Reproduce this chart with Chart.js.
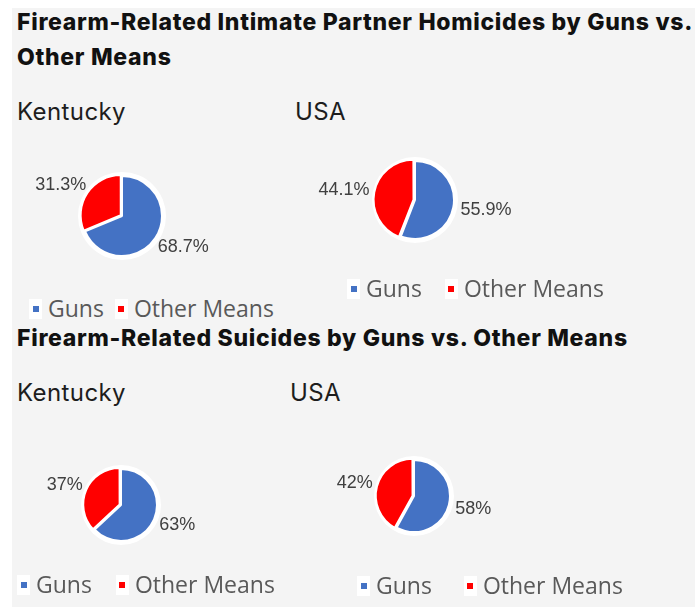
<!DOCTYPE html>
<html>
<head>
<meta charset="utf-8">
<script src="https://cdn.jsdelivr.net/npm/chart.js@4.4.1/dist/chart.umd.min.js"></script>
<style>
  body { margin: 0; width: 695px; height: 607px; overflow: hidden; background: #ffffff; position: relative; font-family: Inter, sans-serif; }
  #panel { position: absolute; left: 12px; top: 8px; right: 0; bottom: 0; background: #f4f4f4; }
  .title { position: absolute; left: 17px; font-weight: 800; font-size: 23px; line-height: 23px; color: #111; white-space: nowrap; letter-spacing: 0.7px; }
  .sub { position: absolute; font-size: 24px; line-height: 24px; color: #1d1d1d; white-space: nowrap; letter-spacing: 0.4px; }
  .pie { position: absolute; }
  .legend { position: absolute; display: flex; align-items: center; font-family: 'Open Sans', sans-serif; font-size: 23px; line-height: 23px; color: #595959; white-space: nowrap; }
  .legend-item { display: flex; align-items: center; }
  .legend-box { background: #fff; width: 13px; height: 20px; display: flex; align-items: center; justify-content: center; margin-right: 6px; }
  .legend-color { width: 6px; height: 6px; }
</style>
</head>
<body>
<div id="panel"></div>

<div class="title" style="top:11px">Firearm-Related Intimate Partner Homicides by Guns vs.</div>
<div class="title" style="top:46px">Other Means</div>
<div class="sub" style="left:17px; top:100px">Kentucky</div>
<div class="sub" style="left:295px; top:100px">USA</div>

<div class="title" style="top:327px">Firearm-Related Suicides by Guns vs. Other Means</div>
<div class="sub" style="left:17px; top:381px">Kentucky</div>
<div class="sub" style="left:290px; top:381px">USA</div>

<canvas id="kyHom" class="pie" width="220" height="150" style="left:12px; top:141px"></canvas>
<canvas id="usHom" class="pie" width="220" height="150" style="left:305px; top:125px"></canvas>
<canvas id="kySui" class="pie" width="220" height="150" style="left:11px; top:430px"></canvas>
<canvas id="usSui" class="pie" width="220" height="150" style="left:304px; top:421px"></canvas>

<div id="leg-kyHom" class="legend" style="left:29px; top:297px"></div>
<div id="leg-usHom" class="legend" style="left:347px; top:277px"></div>
<div id="leg-kySui" class="legend" style="left:17px; top:573px"></div>
<div id="leg-usSui" class="legend" style="left:357px; top:574px"></div>

<script>
// data
const categories = ['Guns', 'Other Means'];
const kyHomicide = [68.7, 31.3];
const usHomicide = [55.9, 44.1];
const kySuicide = [63, 37];
const usSuicide = [58, 42];
const sliceColors = ['#4472C4', '#FF0000'];

// white disc behind each pie
const halo = {
  id: 'halo',
  beforeDatasetsDraw(chart, args, opts) {
    const arc = chart.getDatasetMeta(0).data[0];
    if (!arc) return;
    const {x, y, outerRadius} = arc.getProps(['x', 'y', 'outerRadius'], true);
    const {ctx} = chart;
    ctx.save();
    ctx.fillStyle = '#ffffff';
    ctx.beginPath();
    ctx.arc(x, y, outerRadius + opts.pad, 0, Math.PI * 2);
    ctx.fill();
    ctx.restore();
  }
};

// percentage labels outside the slices
const pctLabels = {
  id: 'pctLabels',
  afterDatasetsDraw(chart, args, opts) {
    const {ctx} = chart;
    const values = chart.data.datasets[0].data;
    ctx.save();
    ctx.font = '18px "Liberation Sans", Arial, sans-serif';
    ctx.fillStyle = '#404040';
    ctx.textAlign = 'center';
    ctx.textBaseline = 'middle';
    chart.getDatasetMeta(0).data.forEach((arc, i) => {
      const {x, y, startAngle, endAngle, outerRadius} =
        arc.getProps(['x', 'y', 'startAngle', 'endAngle', 'outerRadius'], true);
      const mid = (startAngle + endAngle) / 2;
      const text = values[i] + '%';
      const halfW = ctx.measureText(text).width / 2;
      const dist = outerRadius * opts.factor;
      const cx = x + Math.cos(mid) * (dist + halfW);
      const cy = y + Math.sin(mid) * (dist + 8);
      ctx.fillText(text, cx, cy);
    });
    ctx.restore();
  }
};

const charts = [
  {id: 'kyHom', values: kyHomicide, radius: 40, gap: 11},
  {id: 'usHom', values: usHomicide, radius: 39, gap: 23},
  {id: 'kySui', values: kySuicide, radius: 36, gap: 24},
  {id: 'usSui', values: usSuicide, radius: 36, gap: 32}
];

charts.forEach(c => {
  new Chart(document.getElementById(c.id), {
    type: 'pie',
    data: {
      labels: categories,
      datasets: [{
        data: c.values,
        backgroundColor: sliceColors,
        borderColor: '#ffffff',
        borderWidth: 2,
        offset: [0, 6],
        radius: c.radius
      }]
    },
    options: {
      responsive: false,
      animation: false,
      layout: {padding: 0},
      plugins: {
        legend: {display: false},
        tooltip: {enabled: false},
        halo: {pad: 4},
        pctLabels: {factor: 1.2}
      }
    },
    plugins: [halo, pctLabels]
  });

  // custom legend
  const legend = document.getElementById('leg-' + c.id);
  categories.forEach((name, i) => {
    const item = document.createElement('div');
    item.classList.add('legend-item');
    if (i > 0) item.style.marginLeft = c.gap + 'px';

    const box = document.createElement('div');
    box.classList.add('legend-box');
    const color = document.createElement('div');
    color.classList.add('legend-color');
    color.style.backgroundColor = sliceColors[i];
    box.appendChild(color);

    const text = document.createElement('span');
    text.textContent = name;

    item.appendChild(box);
    item.appendChild(text);
    legend.appendChild(item);
  });
});
</script>
</body>
</html>
